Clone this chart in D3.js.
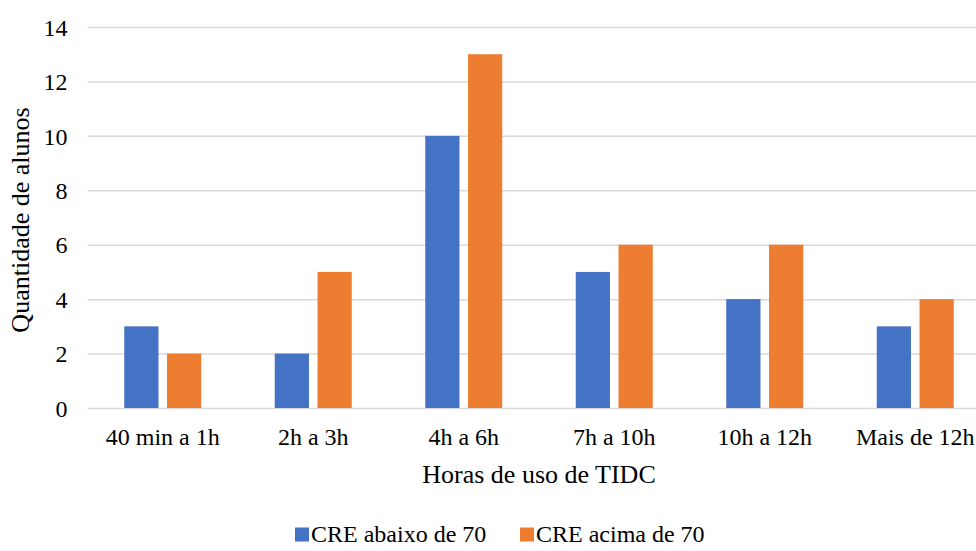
<!DOCTYPE html>
<html>
<head>
<meta charset="utf-8">
<script src="https://cdn.jsdelivr.net/npm/d3@7"></script>
<style>
  html, body { margin: 0; padding: 0; background: #fff; }
  svg { display: block; }
  svg text { font-family: "Liberation Serif", "Times New Roman", Times, "DejaVu Serif", serif !important; fill: #000; }
</style>
</head>
<body>
<svg id="chart" width="976" height="551"></svg>
<script>
// Horas de uso de TIDC por grupo de CRE
const categories = ["40 min a 1h", "2h a 3h", "4h a 6h", "7h a 10h", "10h a 12h", "Mais de 12h"];
const seriesNames = ["CRE abaixo de 70", "CRE acima de 70"];
const abaixo70 = [3, 2, 10, 5, 4, 3];
const acima70 = [2, 5, 13, 6, 6, 4];
const yTicks = [0, 2, 4, 6, 8, 10, 12, 14];
const colors = ["#4472C4", "#ED7D31"];

const seriesValues = [abaixo70, acima70];
const svg = d3.select("#chart");
const LABEL_FONT = 24;
const TITLE_FONT = 26;

const plot = { left: 87.5, right: 990.5, top: 27, bottom: 408 };

const x0 = d3.scaleBand().domain(categories).range([plot.left, plot.right]).paddingInner(0).paddingOuter(0);
const bw = x0.bandwidth();
const x1 = d3.scaleBand().domain(seriesNames).range([bw / 2 - 38.5, bw / 2 + 38.5]).paddingInner(0.2).paddingOuter(0);
const y = d3.scaleLinear().domain([0, 14]).range([plot.bottom, plot.top]);

// Gridlines and value ticks
const yAxis = d3.axisLeft(y).tickValues(yTicks).tickSize(-(plot.right - plot.left)).tickPadding(20).tickFormat(d3.format("d"));
const gy = svg.append("g").attr("transform", `translate(${plot.left},0)`).call(yAxis);
gy.attr("font-family", null);
gy.select(".domain").remove();
gy.selectAll(".tick line").attr("stroke", "#d9d9d9").attr("stroke-width", 1.5);
gy.selectAll(".tick text").attr("font-size", LABEL_FONT).attr("dy", "0.34em");

// Bars
const groups = svg.append("g").selectAll("g").data(categories).join("g")
  .attr("transform", d => `translate(${x0(d)},0)`);
groups.selectAll("rect")
  .data((d, i) => seriesNames.map((s, k) => ({ s, k, v: seriesValues[k][i] })))
  .join("rect")
  .attr("x", d => x1(d.s))
  .attr("width", x1.bandwidth())
  .attr("y", d => y(d.v))
  .attr("height", d => y(0) - y(d.v))
  .attr("fill", d => colors[d.k]);

// Category axis
const xAxis = d3.axisBottom(x0).tickSize(0).tickPadding(0);
const gx = svg.append("g").attr("transform", `translate(0,${plot.bottom})`).call(xAxis);
gx.attr("font-family", null);
gx.select(".domain").remove();
gx.selectAll(".tick text").attr("font-size", LABEL_FONT).attr("y", 37).attr("dy", 0);

// Axis titles
svg.append("text").attr("x", 539).attr("y", 483).attr("text-anchor", "middle").attr("font-size", TITLE_FONT).text("Horas de uso de TIDC");
svg.append("text").attr("transform", "translate(29,220) rotate(-90)").attr("text-anchor", "middle").attr("font-size", TITLE_FONT).text("Quantidade de alunos");

// Legend
const legend = svg.append("g");
const legendX = [295, 520];
seriesNames.forEach((s, k) => {
  legend.append("rect").attr("x", legendX[k]).attr("y", 527.5).attr("width", 14).attr("height", 14).attr("fill", colors[k]);
  legend.append("text").attr("x", legendX[k] + 16).attr("y", 542).attr("font-size", LABEL_FONT).text(s);
});
</script>
</body>
</html>
